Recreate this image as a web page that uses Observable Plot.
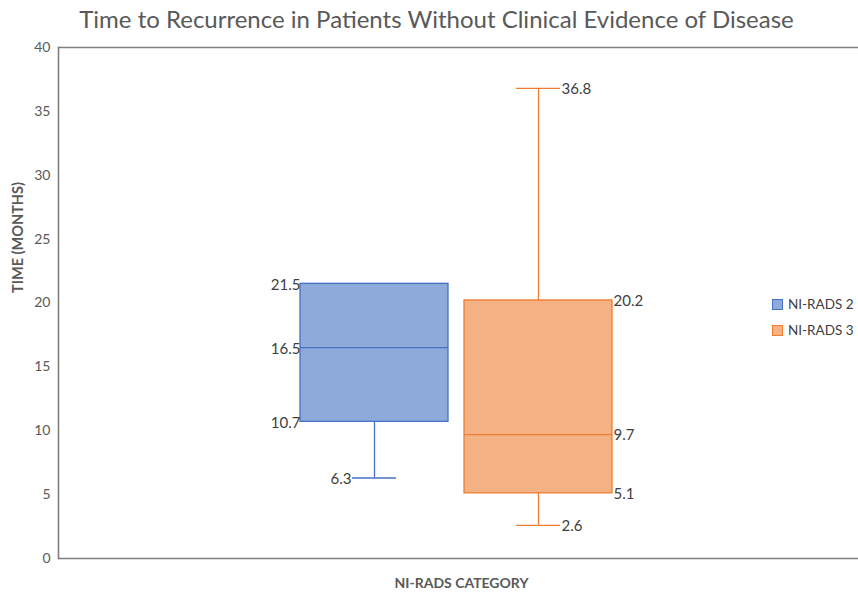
<!DOCTYPE html>
<html>
<head>
<meta charset="utf-8">
<script src="https://cdn.jsdelivr.net/npm/d3@7"></script>
<script src="https://cdn.jsdelivr.net/npm/@observablehq/plot@0.6"></script>
<style>
  html, body { margin: 0; padding: 0; background: #fff; }
  #wrap { position: relative; width: 858px; height: 593px; overflow: hidden; font-family: Lato, "Open Sans", sans-serif; }
  #legend { position: absolute; left: 772px; top: 291px; font-size: 13.5px; color: #404040; white-space: nowrap; }
  .item { display: flex; align-items: center; height: 26px; }
  .sw { width: 9px; height: 9px; margin-right: 5px; border: 1.5px solid; }
</style>
</head>
<body>
<div id="wrap"><div id="legend"></div></div>
<script>
const categories = ["NI-RADS 2", "NI-RADS 3"];
const minVals    = [6.3, 2.6];
const q1Vals     = [10.7, 5.1];
const medianVals = [16.5, 9.7];
const q3Vals     = [21.5, 20.2];
const maxVals    = [21.5, 36.8];
const fills   = ["#8eaadb", "#f4b183"];
const strokes = ["#4472c4", "#ed7d31"];
const yTicks = [0, 5, 10, 15, 20, 25, 30, 35, 40];

const boxes = categories.map((c, i) => ({
  cat: c, min: minVals[i], q1: q1Vals[i], med: medianVals[i], q3: q3Vals[i], max: maxVals[i], i
}));
const whiskers = [];
boxes.forEach(b => {
  if (b.min < b.q1) whiskers.push({cat: b.cat, a: b.min, b: b.q1, i: b.i});
  if (b.max > b.q3) whiskers.push({cat: b.cat, a: b.q3, b: b.max, i: b.i});
});
const caps = [];
boxes.forEach(b => {
  if (b.min < b.q1) caps.push({cat: b.cat, v: b.min, i: b.i});
  if (b.max > b.q3) caps.push({cat: b.cat, v: b.max, i: b.i});
});
const boxLabels = [];
boxes.forEach(b => [b.q3, b.med, b.q1].forEach(v => boxLabels.push({cat: b.cat, v, i: b.i})));

const colorFill = d => fills[d.i];
const colorStroke = d => strokes[d.i];

const chart = Plot.plot({
  width: 858,
  height: 593,
  marginLeft: 58,
  marginRight: 0,
  marginTop: 47,
  marginBottom: 35,
  style: {fontFamily: "Lato, 'Open Sans', sans-serif", background: "white", overflow: "visible"},
  x: {domain: categories, range: [300, 612], paddingInner: 16 / 164, paddingOuter: 0, axis: null},
  y: {domain: [0, 40], ticks: yTicks, label: null},
  marks: [
    Plot.ruleY([0, 40], {stroke: "#7f7f7f", strokeWidth: 1.6}),
    Plot.axisY({ticks: yTicks, tickSize: 0, tickPadding: 8, fontSize: 14, fill: "#595959", label: null}),
    Plot.frame({anchor: "left", stroke: "#7f7f7f", strokeWidth: 1.6}),
    Plot.barY(boxes, {x: "cat", y1: "q1", y2: "q3", fill: colorFill, stroke: colorStroke, strokeWidth: 1.3}),
    Plot.tickY(boxes, {x: "cat", y: "med", stroke: colorStroke, strokeWidth: 1.3}),
    Plot.ruleX(whiskers, {x: "cat", y1: "a", y2: "b", stroke: colorStroke, strokeWidth: 1.3}),
    Plot.tickY(caps, {x: "cat", y: "v", stroke: colorStroke, strokeWidth: 1.3, insetLeft: 52, insetRight: 52}),
    Plot.text(boxLabels.filter(d => d.i === 0), {x: "cat", y: "v", text: d => d.v.toFixed(1),
      dx: -74, dy: 1, textAnchor: "end", fontSize: 15, fill: "#404040"}),
    Plot.text(boxLabels.filter(d => d.i === 1), {x: "cat", y: "v", text: d => d.v.toFixed(1),
      dx: 75, dy: 1, textAnchor: "start", fontSize: 15, fill: "#404040"}),
    Plot.text(caps.filter(d => d.i === 0), {x: "cat", y: "v", text: d => d.v.toFixed(1),
      dx: -23, dy: 1, textAnchor: "end", fontSize: 15, fill: "#404040"}),
    Plot.text(caps.filter(d => d.i === 1), {x: "cat", y: "v", text: d => d.v.toFixed(1),
      dx: 23, dy: 1, textAnchor: "start", fontSize: 15, fill: "#404040"}),
    Plot.text(["Time to Recurrence in Patients Without Clinical Evidence of Disease"],
      {frameAnchor: "top", dx: -22, dy: -37, fontSize: 24, fill: "#595959"}),
    Plot.text(["NI-RADS CATEGORY"],
      {frameAnchor: "bottom", dx: 3, dy: 29, fontSize: 14, fontWeight: "bold", fill: "#595959"}),
    Plot.text(["TIME (MONTHS)"],
      {frameAnchor: "left", dx: -40, dy: -10, rotate: -90, fontSize: 14.5, fontWeight: "bold", fill: "#595959"})
  ]
});

document.getElementById("wrap").prepend(chart);

const legend = document.getElementById("legend");
categories.forEach((c, i) => {
  const item = document.createElement("div");
  item.className = "item";
  const sw = document.createElement("span");
  sw.className = "sw";
  sw.style.background = fills[i];
  sw.style.borderColor = strokes[i];
  item.appendChild(sw);
  item.appendChild(document.createTextNode(c));
  legend.appendChild(item);
});
</script>
</body>
</html>
